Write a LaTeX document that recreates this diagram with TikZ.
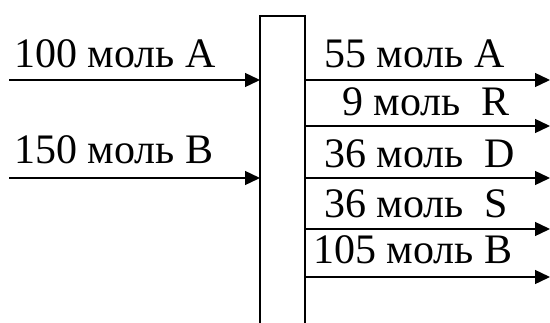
\documentclass[tikz,border=0pt]{standalone}
\usepackage{fontspec}
\setmainfont{Liberation Serif}
\usetikzlibrary{arrows.meta}
\begin{document}
\begin{tikzpicture}[x=1pt,y=-1pt,
  flow/.style={line width=1.4pt,-{Triangle[length=15pt,width=14pt]}},
  wall/.style={line width=1.4pt},
  lbl/.style={inner sep=0pt,anchor=base west,font=\fontsize{42}{50}\selectfont}]
\useasboundingbox (0,0) rectangle (550,322);
% apparatus
\coordinate (bl) at (260,330);
\coordinate (tl) at (260,16);
\coordinate (tr) at (305,16);
\coordinate (br) at (305,330);
\draw[wall] (bl) -- (tl) -- (tr) -- (br);
% inputs
\coordinate (inA) at (9,80);
\coordinate (inAe) at (260,80);
\coordinate (inB) at (9,178);
\coordinate (inBe) at (260,178);
\draw[flow] (inA) -- (inAe);
\draw[flow] (inB) -- (inBe);
\node[lbl] (tA) at (14,67) {100 моль A};
\node[lbl] (tB) at (14,163) {150 моль B};
% outputs
\foreach \n/\y in {1/80,2/126,3/178,4/229,5/277}{
  \coordinate (o\n s) at (305,\y);
  \coordinate (o\n e) at (550,\y);
  \draw[flow] (o\n s) -- (o\n e);
}
\node[lbl] (t1) at (324,67) {55 моль A};
\node[lbl] (t2) at (342,115) {9 моль\ \ R};
\node[lbl] (t3) at (324,167) {36 моль\ \ D};
\node[lbl] (t4) at (324,217) {36 моль\ \ S};
\node[lbl] (t5) at (313,263) {105 моль B};
\end{tikzpicture}
\end{document}
